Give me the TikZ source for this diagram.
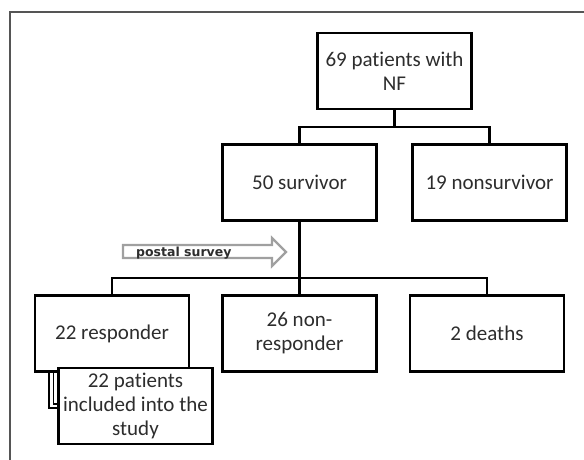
\documentclass[tikz,border=0pt]{standalone}
\usepackage{fontspec}
\setmainfont[Ligatures=NoCommon]{Carlito}
\newfontfamily\surveyfont{DejaVu Sans}
\definecolor{textgray}{RGB}{45,45,45}
\definecolor{framegray}{RGB}{85,85,85}
\definecolor{arrowgray}{RGB}{160,160,160}
\tikzstyle{flowbox}=[draw=black, line width=2.6pt, fill=white, text=textgray, align=center,
  minimum width=154pt, minimum height=76pt, inner sep=2pt, font=\fontsize{21}{24}\selectfont]

\begin{document}
\begin{tikzpicture}[x=1pt, y=-1pt,
  edge from parent/.style={draw, line width=2.4pt},
  edge from parent path={(\tikzparentnode.south) |- ([yshift=16.5pt]\tikzchildnode.north) -- (\tikzchildnode.north)},
  level 1/.style={level distance=111.5pt, sibling distance=190pt},
  level 2/.style={level distance=151pt, sibling distance=187.5pt},
  level 3/.style={level distance=72.5pt,
    edge from parent/.style={draw, line width=1.5pt, double=white, double distance=2.6pt},
    edge from parent path={(\tikzchildnode.west |- \tikzparentnode.south) ++(-6,0) |- (\tikzchildnode.west)}}]
  \useasboundingbox (0,0) rectangle (584,460);
  % page frame
  \draw[framegray, line width=1.6pt] (10,460) -- (10,12) -- (584,12);

  \node[flowbox] (nf) at (394.5,71) {69 patients with\\NF}
    child { node[flowbox] (surv) {50 survivor}
      child { node[flowbox] (resp) {22 responder}
        child { node[flowbox, xshift=23.5pt] (study) {22 patients\\included into the\\study} }
      }
      child { node[flowbox] (nonresp) {26 non-\\responder} }
      child { node[flowbox] (deaths) {2 deaths} }
    }
    child { node[flowbox] (nonsurv) {19 nonsurvivor} };

  % postal survey arrow
  \draw[arrowgray, line width=2.2pt, fill=white, line join=miter]
    (123,245) -- (272,245) -- (272,238) -- (286,252) -- (272,266) -- (272,258) -- (123,258) -- cycle;
  \node[anchor=base west, inner sep=0pt, text=textgray, font=\surveyfont\bfseries\fontsize{12.5}{13}\selectfont]
    (survey) at (136,256) {postal survey};
\end{tikzpicture}
\end{document}
